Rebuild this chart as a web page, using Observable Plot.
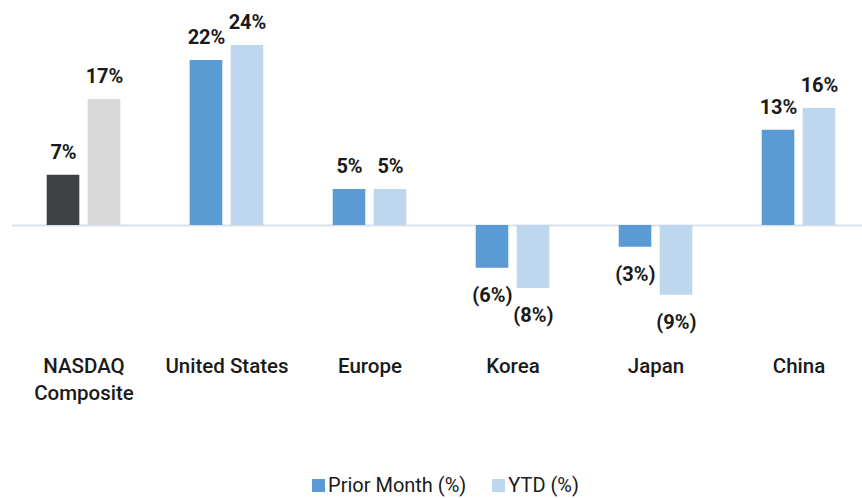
<!DOCTYPE html>
<html>
<head>
<meta charset="utf-8">
<script src="https://cdn.jsdelivr.net/npm/d3@7"></script>
<script src="https://cdn.jsdelivr.net/npm/@observablehq/plot@0.6"></script>
<style>
  html, body { margin: 0; padding: 0; background: #fff; }
  body { width: 862px; height: 498px; overflow: hidden; font-family: Roboto, "Noto Sans", sans-serif; color: #1a1a1a; }
  #legend { display: flex; justify-content: center; align-items: center; gap: 26px; padding-left: 29px; height: 24px; margin-top: 3px; font-size: 20px; font-weight: 400; line-height: 24px; }
  #legend .item { display: flex; align-items: center; gap: 3px; }
  #legend .sw { width: 13px; height: 13px; display: inline-block; }
</style>
</head>
<body>
<div id="chart"></div>
<div id="legend"></div>
<script>
const categories = ["NASDAQ Composite", "United States", "Europe", "Korea", "Japan", "China"];
const categoryLabels = ["NASDAQ\nComposite", "United States", "Europe", "Korea", "Japan", "China"];
const priorMonth = [6.7, 22, 4.8, -5.7, -2.9, 12.7];
const ytd = [16.8, 24, 4.8, -8.4, -9.3, 15.6];
const seriesNames = ["Prior Month (%)", "YTD (%)"];

const colors = {pm: "#5b9bd5", ytd: "#bdd7ee", pmIdx: "#404145", ytdIdx: "#d9d9d9"};

const pmData = categories.map((c, i) => ({cat: c, value: priorMonth[i]}));
const ytdData = categories.map((c, i) => ({cat: c, value: ytd[i]}));
const fmt = v => v >= 0 ? `${Math.round(v)}%` : `(${Math.round(-v)}%)`;
const isIndex = d => d.cat === categories[0];

const OFF = 20.5;
const INSET = 55.2;
const textColor = "#1a1a1a";

const plot = Plot.plot({
  width: 862,
  height: 470,
  marginTop: 15,
  marginBottom: 132.5,
  marginLeft: 12,
  marginRight: 0,
  style: {fontFamily: "Roboto, 'Noto Sans', sans-serif", background: "#fff"},
  x: {domain: categories, range: [11, 871], padding: 0, axis: null},
  y: {domain: [-15, 28], axis: null},
  marks: [
    Plot.ruleY([0], {stroke: "#d9e1ea", strokeWidth: 2}),
    Plot.barY(pmData, {x: "cat", y: "value", dx: -OFF, insetLeft: INSET, insetRight: INSET,
      fill: d => isIndex(d) ? colors.pmIdx : colors.pm}),
    Plot.barY(ytdData, {x: "cat", y: "value", dx: OFF, insetLeft: INSET, insetRight: INSET,
      fill: d => isIndex(d) ? colors.ytdIdx : colors.ytd}),
    Plot.text(pmData.filter(d => d.value >= 0), {x: "cat", y: "value", dx: -OFF, dy: -23, text: d => fmt(d.value),
      fontSize: 20, fontWeight: 700, fill: textColor, lineAnchor: "middle"}),
    Plot.text(pmData.filter(d => d.value < 0), {x: "cat", y: "value", dx: -OFF, dy: 27, text: d => fmt(d.value),
      fontSize: 20, fontWeight: 700, fill: textColor, lineAnchor: "middle"}),
    Plot.text(ytdData.filter(d => d.value >= 0), {x: "cat", y: "value", dx: OFF, dy: -23, text: d => fmt(d.value),
      fontSize: 20, fontWeight: 700, fill: textColor, lineAnchor: "middle"}),
    Plot.text(ytdData.filter(d => d.value < 0), {x: "cat", y: "value", dx: OFF, dy: 27, text: d => fmt(d.value),
      fontSize: 20, fontWeight: 700, fill: textColor, lineAnchor: "middle"}),
    Plot.text(categories, {x: d => d, text: (d, i) => categoryLabels[i], frameAnchor: "bottom",
      lineAnchor: "top", dy: 16, lineHeight: 1.3, fontSize: 20.5, fontWeight: 500, fill: textColor})
  ]
});
document.getElementById("chart").appendChild(plot);

const legend = document.getElementById("legend");
[[seriesNames[0], colors.pm], [seriesNames[1], colors.ytd]].forEach(([name, col]) => {
  const it = document.createElement("div");
  it.className = "item";
  it.innerHTML = `<span class="sw" style="background:${col}"></span><span>${name}</span>`;
  legend.appendChild(it);
});
</script>
</body>
</html>
